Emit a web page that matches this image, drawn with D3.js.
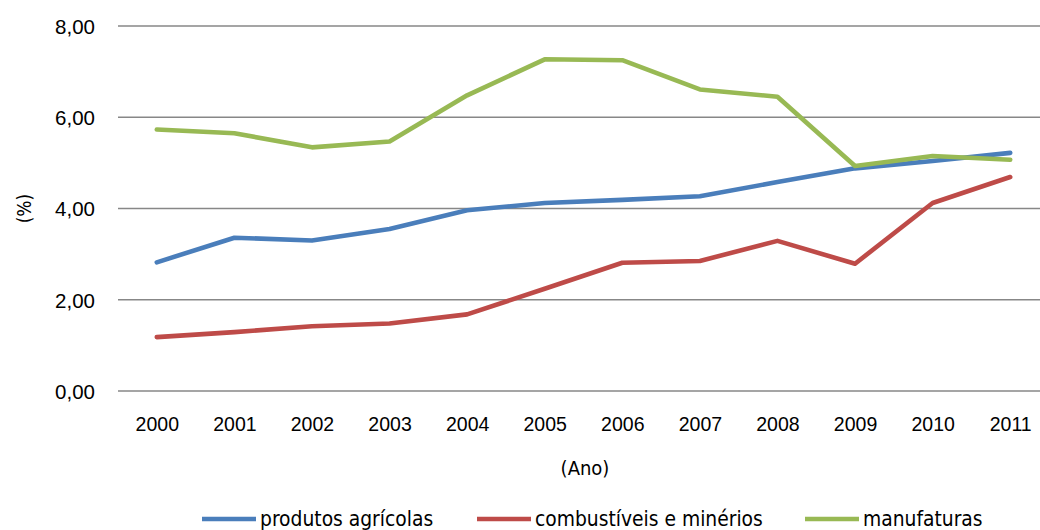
<!DOCTYPE html>
<html>
<head>
<meta charset="utf-8">
<script src="https://cdn.jsdelivr.net/npm/d3@7"></script>
<style>
  html, body { margin: 0; padding: 0; background: #fff; }
  svg { display: block; }
  text { font-family: "DejaVu Sans Condensed", "DejaVu Sans", sans-serif; fill: #000; }
</style>
</head>
<body>
<svg id="chart" width="1040" height="530"></svg>
<script>
// Anos no eixo horizontal
const anos = ["2000","2001","2002","2003","2004","2005","2006","2007","2008","2009","2010","2011"];

// Séries (%)
const produtosAgricolas = [2.82, 3.36, 3.30, 3.55, 3.96, 4.12, 4.19, 4.27, 4.58, 4.88, 5.04, 5.22];
const combustiveisMinerios = [1.18, 1.29, 1.42, 1.48, 1.68, 2.24, 2.81, 2.85, 3.29, 2.79, 4.12, 4.69];
const manufaturas = [5.73, 5.65, 5.34, 5.47, 6.48, 7.27, 7.25, 6.61, 6.45, 4.93, 5.15, 5.07];

const yTicks = [0, 2, 4, 6, 8];
const seriesNomes = ["produtos agrícolas", "combustíveis e minérios", "manufaturas"];
const seriesCores = ["#4a7ebb", "#be4b48", "#98b954"];

const series = [produtosAgricolas, combustiveisMinerios, manufaturas];

const svg = d3.select("#chart");
const W = 1040, H = 530;
const plot = { left: 118, right: 1049, top: 26, bottom: 391 };

const x = d3.scalePoint().domain(anos).range([plot.left, plot.right]).padding(0.5);
const y = d3.scaleLinear().domain([0, 8]).range([plot.bottom, plot.top]);
const fmt = v => d3.format(".2f")(v).replace(".", ",");

// Linhas de grade horizontais
svg.append("g")
  .selectAll("line")
  .data(yTicks)
  .join("line")
  .attr("x1", plot.left).attr("x2", W)
  .attr("y1", d => y(d)).attr("y2", d => y(d))
  .attr("stroke", "#878787")
  .attr("stroke-width", 1.4);

// Eixo Y (rótulos)
const yAxis = svg.append("g")
  .attr("transform", `translate(${plot.left - 23},0)`)
  .call(d3.axisLeft(y).tickValues(yTicks).tickFormat(fmt).tickSize(0).tickPadding(0));
yAxis.select(".domain").remove();
yAxis.selectAll("text").attr("font-size", 20.5).attr("dy", "0.36em")
  .style("font-family", "inherit");

// Eixo X (rótulos)
const xAxis = svg.append("g")
  .attr("transform", `translate(0,${plot.bottom})`)
  .call(d3.axisBottom(x).tickSize(0).tickPadding(0));
xAxis.select(".domain").remove();
xAxis.selectAll("text").attr("font-size", 19.5).attr("y", 40).attr("dy", 0)
  .style("font-family", "inherit");

// Títulos dos eixos
svg.append("text")
  .attr("x", 585).attr("y", 475)
  .attr("text-anchor", "middle")
  .attr("font-size", 20)
  .text("(Ano)");

svg.append("text")
  .attr("transform", `translate(31,${y(4)}) rotate(-90)`)
  .attr("text-anchor", "middle")
  .attr("font-size", 19)
  .text("(%)");

// Linhas das séries
const line = d3.line().x((d, i) => x(anos[i])).y(d => y(d));
svg.append("g")
  .selectAll("path")
  .data(series)
  .join("path")
  .attr("d", d => line(d))
  .attr("fill", "none")
  .attr("stroke", (d, i) => seriesCores[i])
  .attr("stroke-width", 4.6)
  .attr("stroke-linejoin", "round")
  .attr("stroke-linecap", "round");

// Legenda
const legendItems = [
  { x0: 202, x1: 256, tx: 260 },
  { x0: 477, x1: 531, tx: 535 },
  { x0: 805, x1: 859, tx: 863 }
];
const legendY = 519;
const lg = svg.append("g");
legendItems.forEach((it, i) => {
  lg.append("line")
    .attr("x1", it.x0).attr("x2", it.x1)
    .attr("y1", legendY).attr("y2", legendY)
    .attr("stroke", seriesCores[i])
    .attr("stroke-width", 4.6);
  lg.append("text")
    .attr("x", it.tx).attr("y", legendY)
    .attr("dy", "0.36em")
    .attr("font-size", 20.8)
    .text(seriesNomes[i]);
});
</script>
</body>
</html>
